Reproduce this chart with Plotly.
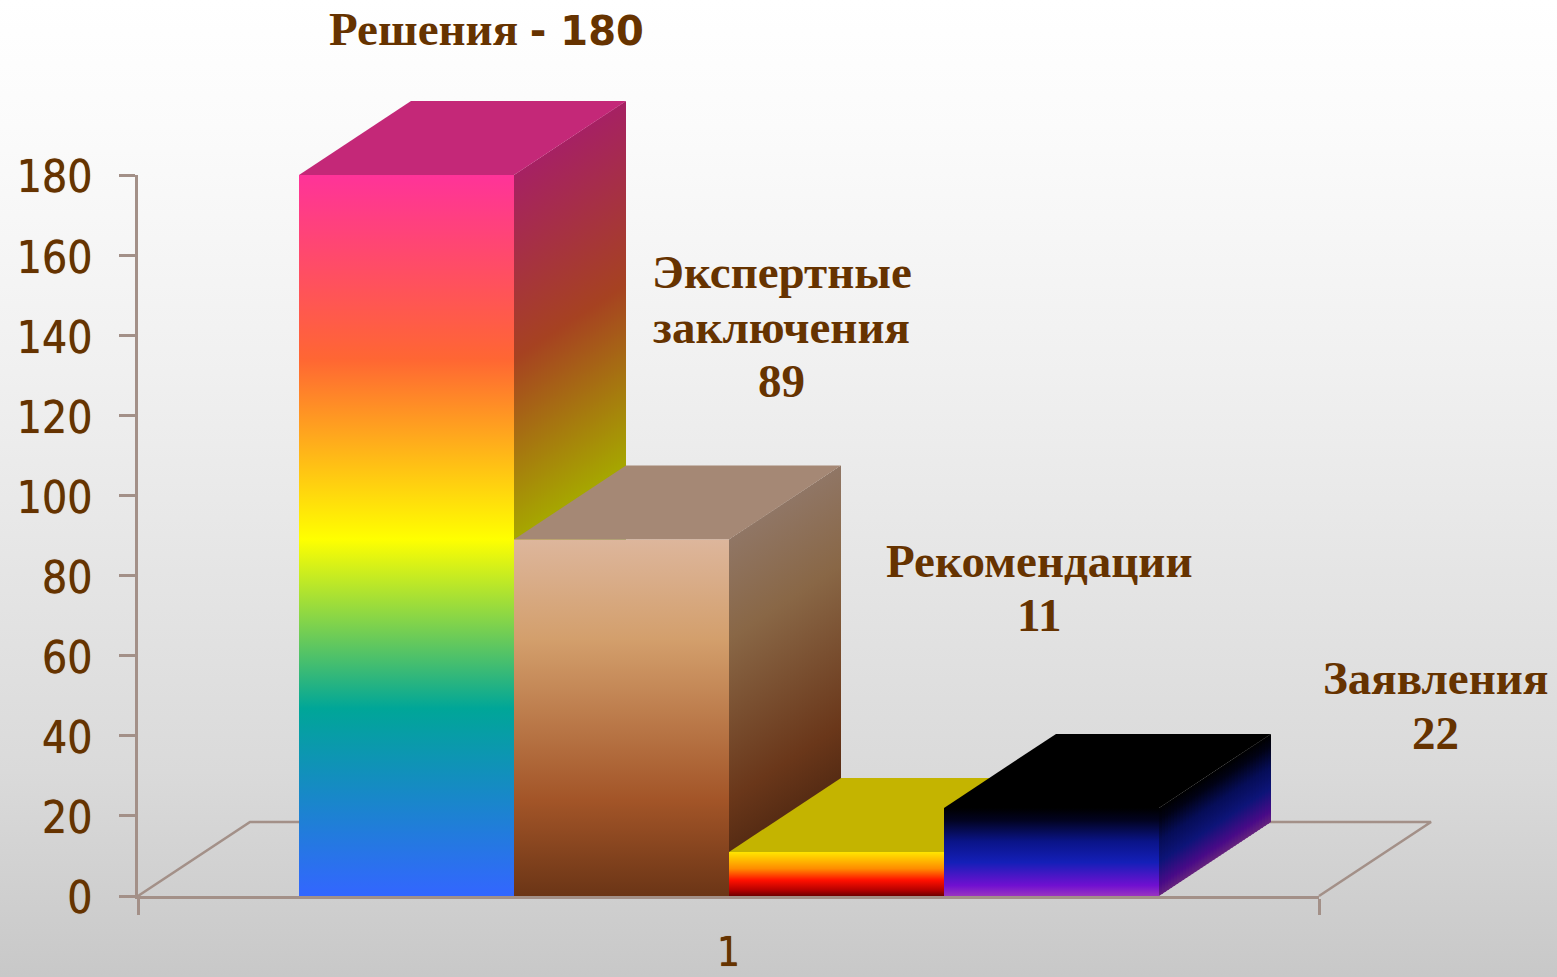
import plotly.graph_objects as go

# ---- data ----
categories = ["Решения", "Экспертные<br>заключения", "Рекомендации", "Заявления"]
values = [180, 89, 11, 22]
axis_category = ["1"]
y_ticks = [0, 20, 40, 60, 80, 100, 120, 140, 160, 180]

# ---- styles ----
front_stops = [
    [(0, "#3366ff"), (0.26, "#00a698"), (0.495, "#ffff00"), (0.745, "#ff6633"), (1, "#ff3399")],
    [(0, "#6b3516"), (0.27, "#a35528"), (0.72, "#d39f6c"), (1, "#ddb69c")],
    [(0, "#6e0000"), (0.12, "#b00000"), (0.36, "#ff1000"), (0.62, "#ff8c00"), (1, "#ffe600")],
    [(0, "#9a35c0"), (0.12, "#7010d0"), (0.38, "#141fb8"), (0.62, "#0a1488"), (0.86, "#020320"), (1, "#000000")],
]
top_colors = ["#c42878", "#a58875", "#c4b400", "#000000"]
SIDE_SHADE = 0.65
LINE = "#a39088"
LINE_W = 2.6
TEXT = "#663300"
SOFT = "0 0 0.7px #663300"
bg_stops = [(0, "#c8c8c8"), (0.21, "#dadada"), (0.62, "#f0f0f0"), (0.87, "#fbfbfb"), (1, "#ffffff")]

# ---- geometry ----
W, H = 1557, 977
X0_PX, BAR_PX = 299, 215
Y0_PX, UNIT_PX = 896, 721 / 180
AXIS_L_PX, AXIS_R_PX = 138, 1319
DEPTH_X = 112 / BAR_PX
DEPTH_Y = 74 / UNIT_PX
x_range = [-X0_PX / BAR_PX, (W - X0_PX) / BAR_PX]
y_range = [-(H - Y0_PX) / UNIT_PX, Y0_PX / UNIT_PX]


def shade(c, k):
    r, g, b = int(c[1:3], 16), int(c[3:5], 16), int(c[5:7], 16)
    return f"rgb({r * k:.0f},{g * k:.0f},{b * k:.0f})"


def poly(xs, ys, color=None, grad=None, start=None, stop=None):
    kw = dict(x=xs, y=ys, mode="none", fill="toself", hoverinfo="skip", showlegend=False)
    if grad is not None:
        kw["fillgradient"] = dict(type="vertical", colorscale=[list(s) for s in grad], start=start, stop=stop)
    else:
        kw["fillcolor"] = color
    return go.Scatter(**kw)


fig = go.Figure()

# background
fig.add_trace(poly([x_range[0], x_range[1], x_range[1], x_range[0]],
                   [y_range[0], y_range[0], y_range[1], y_range[1]],
                   grad=bg_stops, start=y_range[0], stop=y_range[1]))

# floor outline
fl, fr = (AXIS_L_PX - X0_PX) / BAR_PX, (AXIS_R_PX - X0_PX) / BAR_PX
fig.add_trace(go.Scatter(x=[fl, fl + DEPTH_X, fr + DEPTH_X, fr], y=[0, DEPTH_Y, DEPTH_Y, 0],
                         mode="lines", line=dict(color=LINE, width=LINE_W), hoverinfo="skip", showlegend=False))

# bars
STRIPS = 37
for i, v in enumerate(values):
    stops = front_stops[i]
    side = [(p, shade(c, SIDE_SHADE)) for p, c in stops]
    xr = i + 1
    # side face as sheared strips
    for s in range(STRIPS):
        t0, t1 = s / STRIPS, min(1, (s + 1.35) / STRIPS)
        fig.add_trace(poly(
            [xr + t0 * DEPTH_X, xr + t1 * DEPTH_X, xr + t1 * DEPTH_X, xr + t0 * DEPTH_X],
            [t0 * DEPTH_Y, t1 * DEPTH_Y, v + t1 * DEPTH_Y, v + t0 * DEPTH_Y],
            grad=side, start=(t0 + t1) / 2 * DEPTH_Y, stop=v + (t0 + t1) / 2 * DEPTH_Y))
    # top face
    fig.add_trace(poly([i, xr, xr + DEPTH_X, i + DEPTH_X], [v, v, v + DEPTH_Y, v + DEPTH_Y], color=top_colors[i]))
    # front face
    fig.add_trace(poly([i, xr, xr, i], [0, 0, v, v], grad=stops, start=0, stop=v))

# axes subplot (front edge of the floor, 0..180)
fig.add_trace(go.Scatter(x=[None], y=[None], xaxis="x2", yaxis="y2", hoverinfo="skip", showlegend=False))

fig.update_layout(
    template="none",
    width=W, height=H, margin=dict(l=0, r=0, t=0, b=0, pad=0), autosize=False,
    paper_bgcolor="rgba(0,0,0,0)", plot_bgcolor="rgba(0,0,0,0)", showlegend=False,
    xaxis=dict(range=x_range, visible=False, domain=[0, 1], fixedrange=True, automargin=False),
    yaxis=dict(range=y_range, visible=False, domain=[0, 1], fixedrange=True, automargin=False),
    xaxis2=dict(domain=[AXIS_L_PX / W, AXIS_R_PX / W], range=[0, 1], anchor="y2", automargin=False,
                showline=True, linecolor=LINE, linewidth=LINE_W, showgrid=False, zeroline=False,
                tickmode="array", tickvals=[0.5], ticktext=axis_category, ticks="",
                tickfont=dict(family="DejaVu Sans Condensed", size=40, color=TEXT, shadow=SOFT),
                ticklabelstandoff=19, layer="above traces",
                minor=dict(tickmode="array", tickvals=[0, 1], ticks="outside", ticklen=16,
                           tickwidth=LINE_W, tickcolor=LINE, showgrid=False)),
    yaxis2=dict(domain=[(H - Y0_PX) / H, (H - Y0_PX + 721) / H], range=[0, 180], anchor="x2", automargin=False,
                showline=True, linecolor=LINE, linewidth=LINE_W, showgrid=False, zeroline=False,
                tickmode="array", tickvals=y_ticks, ticks="outside", ticklen=16,
                tickwidth=LINE_W, tickcolor=LINE,
                tickfont=dict(family="DejaVu Sans Condensed", size=44, color=TEXT, shadow=SOFT),
                ticklabelstandoff=18, ticklabelshift=2, layer="above traces"),
)

# data labels, one annotation per line to hold the reference's line pitch
label_lines = [
    [f"{categories[0]} <span style='font-family:DejaVu Sans;font-size:40px'>- {values[0]}</span>"],
    categories[1].split("<br>") + [str(values[1])],
    [categories[2], str(values[2])],
    [categories[3], str(values[3])],
]
label_pos_px = [
    (487, [29]),
    (782, [272, 327, 381]),
    (1039, [561, 615]),
    (1435, [678, 733]),
]
for lines, (px, ys) in zip(label_lines, label_pos_px):
    for txt, py in zip(lines, ys):
        fig.add_annotation(x=px / W, y=1 - py / H, xref="paper", yref="paper", text=txt, showarrow=False,
                           xanchor="center", yanchor="middle", align="center",
                           font=dict(family="Liberation Serif", size=47, color=TEXT, weight="bold"))

fig.write_html("out.html", config={"displayModeBar": False},
               post_script="document.body.style.margin='0';")
